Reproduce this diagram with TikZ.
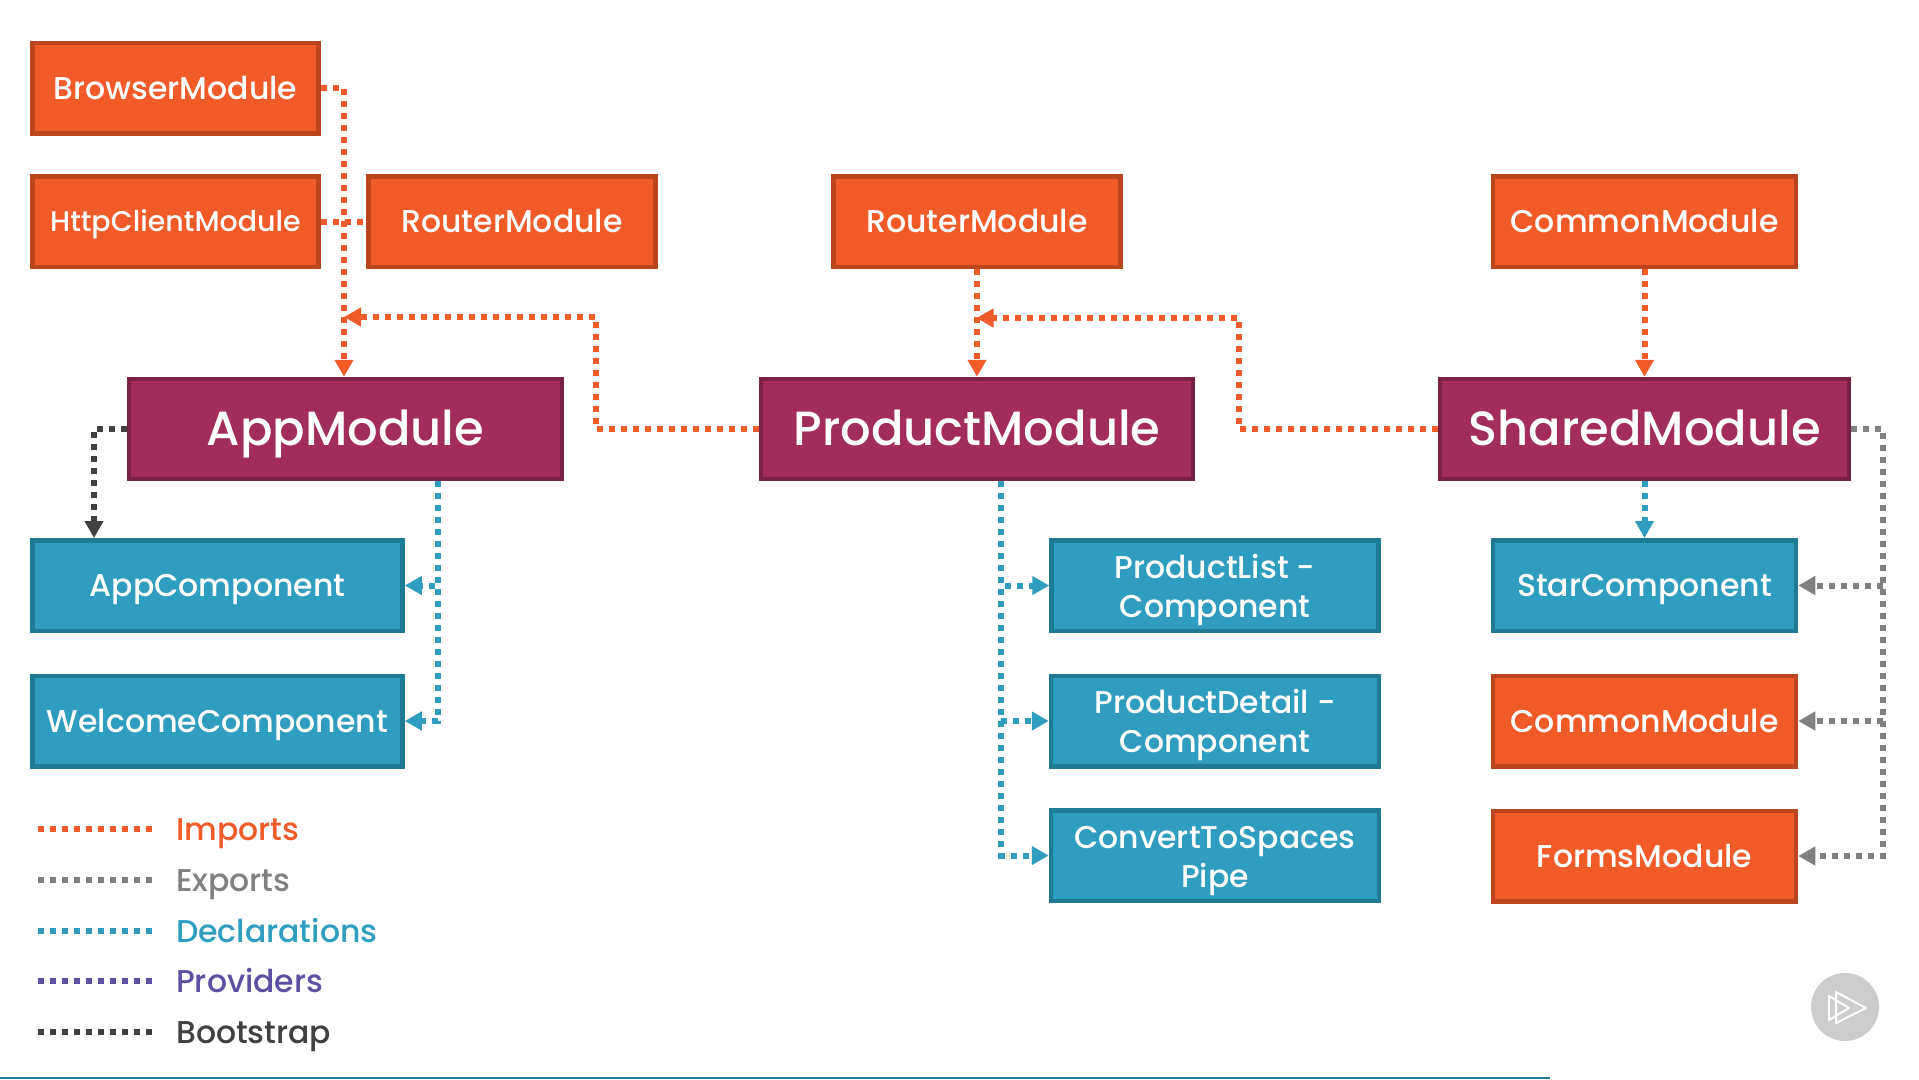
\documentclass[tikz,border=0pt]{standalone}
\usepackage{fontspec}
\setmainfont{Poppins Medium}
\usetikzlibrary{arrows.meta}
\definecolor{orangebox}{HTML}{F15A29}
\definecolor{orangeline}{HTML}{BA451F}
\definecolor{plumbox}{HTML}{A22C5B}
\definecolor{plumline}{HTML}{7A2146}
\definecolor{bluebox}{HTML}{2E9DBF}
\definecolor{blueline}{HTML}{1F7A96}
\definecolor{greyline}{HTML}{808080}
\definecolor{violetline}{HTML}{5D4FA1}
\definecolor{darkline}{HTML}{404040}
\newcommand{\boxstrut}{\rule[-0.32em]{0pt}{1.34em}}
\newcommand{\topstrut}{\rule{0pt}{1.1em}}
\tikzset{
evenline/.style={execute at begin node=\boxstrut,execute at end node=\boxstrut},
box/.style={draw,line width=4.5pt,inner sep=0pt,align=center,text=white,evenline,font=\fontsize{31.5}{39}\selectfont,minimum height=90.5pt},
modulebox/.style={box,fill=orangebox,draw=orangeline},
rootbox/.style={box,fill=plumbox,draw=plumline,minimum height=100pt,font=\fontsize{48}{50}\selectfont},
compbox/.style={box,fill=bluebox,draw=blueline},
link/.style={line width=6pt,dash pattern=on 6pt off 6pt},
imports/.style={link,color=orangebox},
exports/.style={link,color=greyline},
declarations/.style={link,color=bluebox},
providers/.style={link,color=violetline},
bootstrap/.style={link,color=darkline}
}
\begin{document}
\begin{tikzpicture}[>={Triangle[length=17pt,width=18pt]},x=1pt,y=-1pt]
\useasboundingbox (0,0) rectangle (1919,1079);
% first row
\node[modulebox,minimum width=286pt] (browser) at (175.5,88) {BrowserModule};
\node[modulebox,minimum width=286pt,font=\fontsize{28.5}{39}\selectfont] (http) at (175.5,221.5) {HttpClientModule};
\node[modulebox,minimum width=287pt] (routerA) at (512,221.5) {RouterModule};
\node[modulebox,minimum width=287pt] (routerB) at (977,221.5) {RouterModule};
\node[modulebox,minimum width=303pt] (commonA) at (1644.5,221.5) {CommonModule};
% the three modules
\node[rootbox,minimum width=433pt] (app) at (345.5,429) {AppModule};
\node[rootbox,minimum width=432pt] (product) at (977,429) {ProductModule};
\node[rootbox,minimum width=409pt] (shared) at (1644.5,429) {SharedModule};
% lower boxes
\node[compbox,minimum width=370pt] (appcomp) at (217.5,585.5) {AppComponent};
\node[compbox,minimum width=370pt] (welcome) at (217.5,721) {WelcomeComponent};
\node[compbox,minimum width=327pt] (plist) at (1215,585.5) {\topstrut ProductList -\\Component};
\node[compbox,minimum width=328pt] (pdetail) at (1215,721) {\topstrut ProductDetail -\\Component};
\node[compbox,minimum width=328pt] (convert) at (1215,855.5) {\topstrut ConvertToSpaces\\Pipe};
\node[compbox,minimum width=303pt] (star) at (1644.5,585.5) {StarComponent};
\node[modulebox,minimum width=303pt] (commonB) at (1644.5,721) {CommonModule};
\node[modulebox,minimum width=303pt] (forms) at (1644.5,856) {FormsModule};
% bends
\coordinate (mergeA) at (344,317);
\coordinate (elbowA) at (596,429);
\coordinate (mergeB) at (976.5,318);
\coordinate (elbowB) at (1239,429);
\coordinate (bootA) at (94,429);
\coordinate (declA) at (438,481);
\coordinate (declB) at (1001,481);
\coordinate (trunk) at (1883,429);
% imports
\draw[imports,->] (browser.east) -| (mergeA |- app.north);
\draw[imports] (http.east) -- (routerA.west);
\draw[imports,->] (product.west) -- (elbowA) |- (mergeA);
\draw[imports,->] (routerB.south) -- (product.north);
\draw[imports,->] (shared.west) -- (elbowB) |- (mergeB);
\draw[imports,->] (commonA.south) -- (shared.north);
% bootstrap
\draw[bootstrap,->] (app.west) -- (bootA) -- (bootA |- appcomp.north);
% declarations
\draw[declarations,->] (declA) |- (appcomp.east);
\draw[declarations,->] (declA) |- (welcome.east);
\draw[declarations,->] (declB) |- (plist.west);
\draw[declarations,->] (declB) |- (pdetail.west);
\draw[declarations,->] (declB) |- (convert.west);
\draw[declarations,->] (shared.south) -- (star.north);
% exports
\draw[exports,->] (shared.east) -- (trunk) |- (forms.east);
\draw[exports,->] (trunk |- star.east) -- (star.east);
\draw[exports,->] (trunk |- commonB.east) -- (commonB.east);
% legend
\foreach \y/\name/\col/\sty in {829/Imports/orangebox/imports,880/Exports/greyline/exports,931/Declarations/bluebox/declarations,981/Providers/violetline/providers,1032/Bootstrap/darkline/bootstrap}{
\node[anchor=west,inner sep=0pt,evenline,text=\col,font=\fontsize{31.5}{30}\selectfont] (legend\name) at (176,\y) {\name};
\coordinate (start\name) at (38,\y);
\draw[\sty] (start\name) -- ++(115,0);
}
% bottom rule and player badge
\draw[color=bluebox!80!black,line width=2pt] (0,1078) -- (1550,1078);
\node[circle,fill=black!20,minimum size=68pt,inner sep=0pt] (badge) at (1845,1007) {};
\draw[white,line width=2pt,line join=round] (1836,992) -- (1866,1008) -- (1836,1023) -- cycle;
\draw[white,line width=2pt,line join=round] (1829,996) -- (1849,1008) -- (1829,1020) -- cycle;
\end{tikzpicture}
\end{document}
